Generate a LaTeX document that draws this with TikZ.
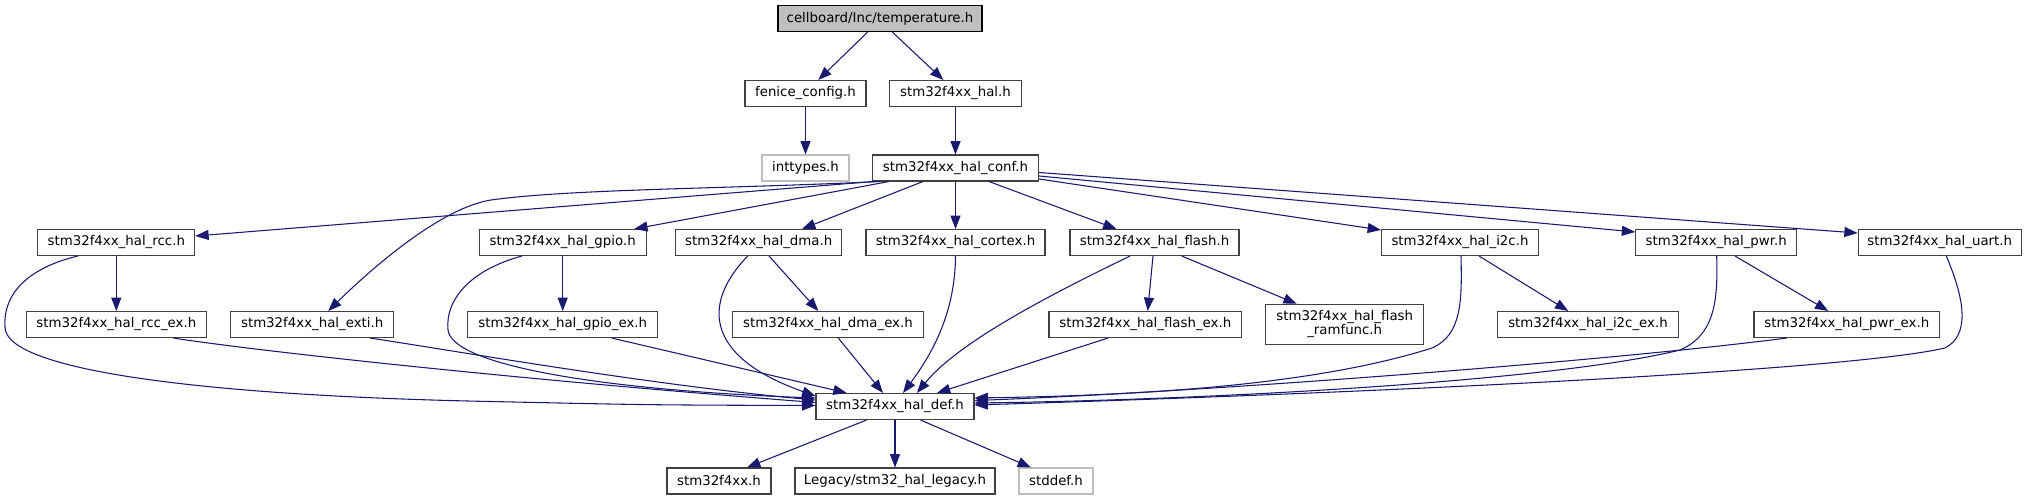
\documentclass[tikz,border=0pt]{standalone}
\usepackage{fontspec}
\setmainfont{DejaVu Sans}
\usetikzlibrary{arrows.meta,positioning,calc}
\definecolor{edgeblue}{HTML}{191970}
\definecolor{boxline}{HTML}{404040}
\definecolor{sysline}{HTML}{BFBFBF}
\definecolor{rootfill}{HTML}{BFBFBF}

\begin{document}
\begin{tikzpicture}[x=0.75pt,y=-0.75pt,font=\fontsize{10}{10.5}\selectfont,
  hdr/.style={draw=boxline,line width=0.8pt,minimum height=19.5pt,inner xsep=1pt,inner ysep=0pt,text=black},
  sysh/.style={hdr,draw=sysline},
  dep/.style={draw=edgeblue,line width=0.8pt,-{Triangle[length=10pt,width=7.5pt]}}]
\useasboundingbox (0,0) rectangle (2028,500);
\node[hdr,fill=rootfill,draw=black,minimum width=153pt] (temp) at (880,18.5) {cellboard/Inc/temperature.h};
\node[hdr,minimum width=90.75pt] (fenice) at (805.5,93.5) {fenice\_config.h};
\node[hdr,minimum width=99pt] (hal) at (955.5,93.5) {stm32f4xx\_hal.h};
\node[sysh,minimum width=65.25pt] (inttypes) at (805.5,168) {inttypes.h};
\node[hdr,minimum width=124.5pt] (conf) at (955.5,168) {stm32f4xx\_hal\_conf.h};
\node[hdr,minimum width=117.75pt] (rcc) at (116.3,242.5) {stm32f4xx\_hal\_rcc.h};
\node[hdr,minimum width=125.25pt] (gpio) at (562.7,242.5) {stm32f4xx\_hal\_gpio.h};
\node[hdr,minimum width=124.5pt] (dma) at (758.7,242.5) {stm32f4xx\_hal\_dma.h};
\node[hdr,minimum width=134.25pt] (cortex) at (955.5,242.5) {stm32f4xx\_hal\_cortex.h};
\node[hdr,minimum width=126.75pt] (flash) at (1154.5,242.5) {stm32f4xx\_hal\_flash.h};
\node[hdr,minimum width=117.75pt] (i2c) at (1460,242.5) {stm32f4xx\_hal\_i2c.h};
\node[hdr,minimum width=120.75pt] (pwr) at (1716.2,242.5) {stm32f4xx\_hal\_pwr.h};
\node[hdr,minimum width=122.25pt] (uart) at (1939.7,242.5) {stm32f4xx\_hal\_uart.h};
\node[hdr,minimum width=135pt] (rccex) at (116.3,324.5) {stm32f4xx\_hal\_rcc\_ex.h};
\node[hdr,minimum width=122.25pt] (exti) at (312.2,324.5) {stm32f4xx\_hal\_exti.h};
\node[hdr,minimum width=142.5pt] (gpioex) at (562.7,324.5) {stm32f4xx\_hal\_gpio\_ex.h};
\node[hdr,minimum width=143pt] (dmaex) at (828,324.5) {stm32f4xx\_hal\_dma\_ex.h};
\node[hdr,minimum width=144.5pt] (flashex) at (1145.3,324.5) {stm32f4xx\_hal\_flash\_ex.h};
\node[hdr,minimum width=118.5pt,minimum height=30pt,align=center] (ramfunc) at (1344.7,324.3) {stm32f4xx\_hal\_flash\\\_ramfunc.h};
\node[hdr,minimum width=135.5pt] (i2cex) at (1588,324.5) {stm32f4xx\_hal\_i2c\_ex.h};
\node[hdr,minimum width=139.25pt] (pwrex) at (1846.8,324.5) {stm32f4xx\_hal\_pwr\_ex.h};
\node[hdr,minimum width=118.5pt] (def) at (895,406.5) {stm32f4xx\_hal\_def.h};
\node[hdr,minimum width=78pt] (f4) at (719,481) {stm32f4xx.h};
\node[hdr,minimum width=150pt] (legacy) at (895,481) {Legacy/stm32\_hal\_legacy.h};
\node[sysh,minimum width=55.5pt] (stddef) at (1056,481) {stddef.h};
\draw[dep] ($(temp.south)+(-12.3,0)$) -- ($(fenice.north)+(12.8,0)$);
\draw[dep] ($(temp.south)+(12.3,0)$) -- ($(hal.north)+(-12.2,0)$);
\draw[dep] (fenice) -- (inttypes);
\draw[dep] (hal) -- (conf);
\draw[dep] ($(conf.south west)+(1.5,0)$) -- ($(rcc.east)+(0,-6.5)$);
\draw[dep] ($(conf.south west)+(8,0)$) .. controls (720,189) and (570,189) .. (491,200) .. controls (440,208) and (370,270) .. ($(exti.north)+(16,0)$);
\draw[dep] ($(conf.south west)+(17,0)$) -- ($(gpio.north)+(71.5,0)$);
\draw[dep] ($(conf.south)+(-32.5,0)$) -- ($(dma.north)+(43.3,0)$);
\draw[dep] (conf) -- (cortex);
\draw[dep] ($(conf.south)+(33.5,0)$) -- ($(flash.north)+(-38,0)$);
\draw[dep] ($(conf.east)+(0,11)$) -- ($(i2c.north west)+(0,1)$);
\draw[dep] ($(conf.east)+(0,8)$) -- ($(pwr.west)+(0,-10.5)$);
\draw[dep] ($(conf.east)+(0,4.5)$) -- ($(uart.west)+(0,-9.5)$);
\draw[dep] (rcc) -- (rccex);
\draw[dep] ($(rcc.south)+(-38.6,0)$) .. controls (20,270) and (3,300) .. (5,327) .. controls (5,370) and (200,396) .. (500,401.7) .. controls (650,405) .. ($(def.west)+(0,-1)$);
\draw[dep] ($(rccex.south)+(57,0)$) .. controls (250,350) and (500,378) .. ($(def.west)+(0,-4)$);
\draw[dep] ($(exti.south)+(57.8,0)$) .. controls (450,350) and (650,385) .. ($(def.west)+(0,-6.5)$);
\draw[dep] (gpio) -- (gpioex);
\draw[dep] ($(gpio.south)+(-40.8,0)$) .. controls (470,270) and (445,300) .. (448,330) .. controls (452,365) and (600,390) .. ($(def.west)+(0,-8.5)$);
\draw[dep] ($(gpioex.south)+(49,0)$) -- ($(def.north)+(-48.3,0)$);
\draw[dep] ($(dma.south)+(10.3,0)$) -- ($(dmaex.north)+(-9.7,0)$);
\draw[dep] ($(dma.south)+(-11,0)$) .. controls (705,300) and (700,355) .. ($(def.west)+(0,-10.5)$);
\draw[dep] ($(dmaex.south)+(10.3,0)$) -- ($(def.north)+(-12,0)$);
\draw[dep] (cortex.south) .. controls (955,310) and (935,350) .. ($(def.north)+(8,0)$);
\draw[dep] ($(flash.south)+(-24.5,0)$) .. controls (1060,290) and (960,340) .. ($(def.north)+(22,0)$);
\draw[dep] ($(flash.south)+(-1.5,0)$) -- ($(flashex.north)+(2.4,0)$);
\draw[dep] ($(flash.south)+(27.2,0)$) -- ($(ramfunc.north)+(-48,0)$);
\draw[dep] ($(flashex.south)+(-37.3,0)$) -- ($(def.north)+(42,0)$);
\draw[dep] ($(i2c.south)+(19,0)$) -- ($(i2cex.north)+(-19.7,0)$);
\draw[dep] ($(i2c.south)+(1,0)$) .. controls (1462,300) and (1462,335) .. (1432,348) .. controls (1300,390) and (1100,396) .. ($(def.east)+(0,-8.5)$);
\draw[dep] ($(pwr.south)+(18.8,0)$) -- ($(pwrex.north)+(-18.5,0)$);
\draw[dep] ($(pwr.south)+(0.5,0)$) .. controls (1718,300) and (1715,335) .. (1680,350) .. controls (1550,382) and (1200,400) .. ($(def.east)+(0,-3.5)$);
\draw[dep] ($(pwrex.south)+(-60,0)$) .. controls (1600,362) and (1200,392) .. ($(def.east)+(0,-6)$);
\draw[dep] ($(uart.south)+(6.6,0)$) .. controls (1965,300) and (1970,335) .. (1945,348) .. controls (1850,370) and (1400,392) .. ($(def.east)+(0,-1.5)$);
\draw[dep] ($(def.south)+(-28.5,0)$) -- ($(f4.north)+(28,0)$);
\draw[dep] (def) -- (legacy);
\draw[dep] ($(def.south)+(25.5,0)$) -- ($(stddef.north)+(-25,0)$);
\end{tikzpicture}
\end{document}
